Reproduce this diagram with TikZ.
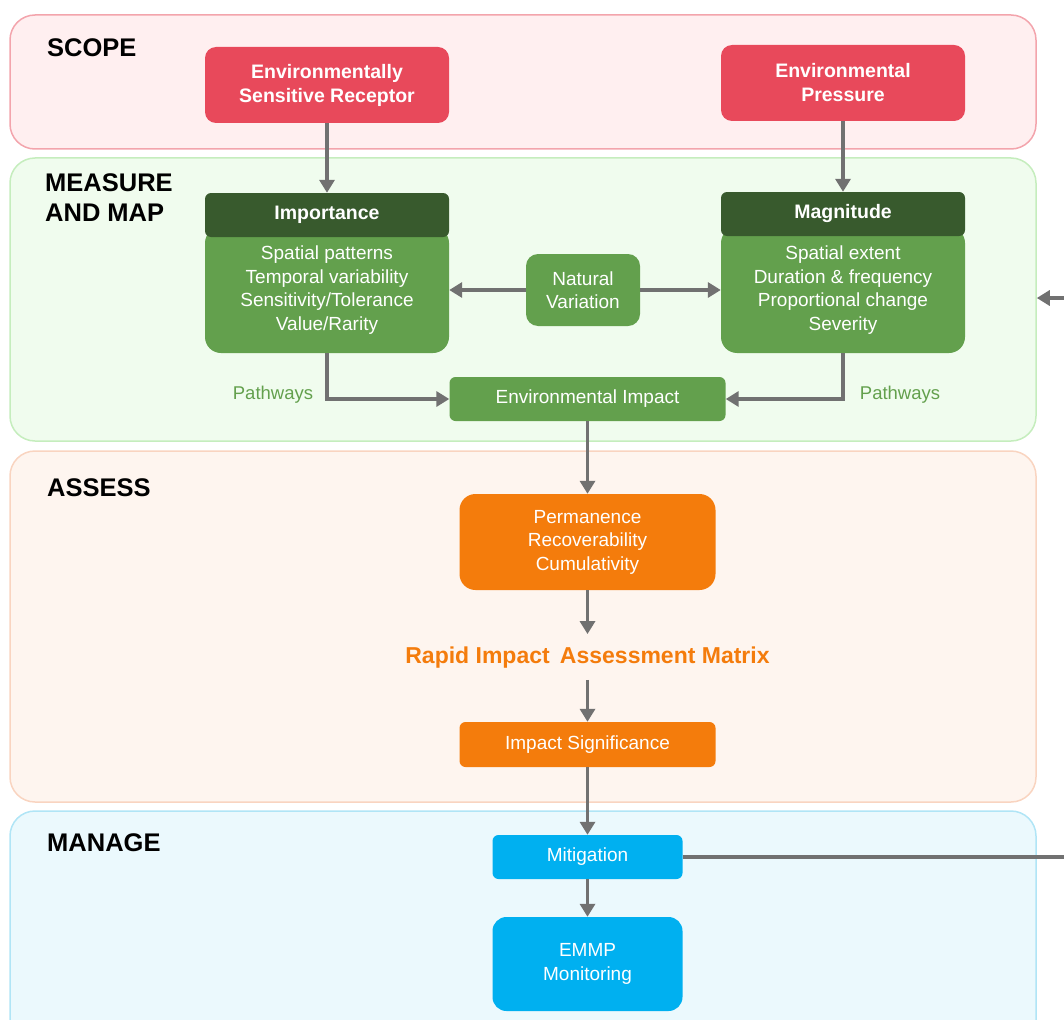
\documentclass[tikz,border=0pt]{standalone}
\usepackage{fontspec}
\setmainfont{Liberation Sans}
\usetikzlibrary{arrows.meta}
\definecolor{scopefill}{HTML}{FFEFF0}
\definecolor{scopeline}{HTML}{F3A4AC}
\definecolor{measfill}{HTML}{F0FCEE}
\definecolor{measline}{HTML}{C5EDBD}
\definecolor{assfill}{HTML}{FEF5EF}
\definecolor{assline}{HTML}{F9D4C0}
\definecolor{manfill}{HTML}{EBF9FD}
\definecolor{manline}{HTML}{B0E5F6}
\definecolor{redbox}{HTML}{E8495B}
\definecolor{darkgreen}{HTML}{385A2D}
\definecolor{greenbox}{HTML}{63A04D}
\definecolor{orangebox}{HTML}{F47C0C}
\definecolor{bluebox}{HTML}{00B0F0}
\definecolor{arrgray}{HTML}{717171}
\begin{document}
\begin{tikzpicture}[x=1pt,y=-1pt,
  panel/.style={draw, line width=1.5pt, rounded corners=25pt, inner sep=0pt},
  ptitle/.style={anchor=west, align=left, inner sep=0pt, text=black,
    font=\fontsize{25.5}{30}\selectfont\bfseries},
  box/.style={rectangle, inner sep=0pt, text=white, align=center,
    font=\fontsize{19}{23.5}\selectfont},
  boldbox/.style={box, font=\fontsize{19.5}{24}\selectfont\bfseries},
  arr/.style={draw=arrgray, line width=3.5pt, -{Triangle[length=13pt,width=15pt]}},
  plain/.style={draw=arrgray, line width=3.5pt}
]
\useasboundingbox (0,0) rectangle (1064,1019);
% panels
\node[panel, draw=scopeline, fill=scopefill, minimum width=1026pt, minimum height=134pt] (scope) at (523,82) {};
\node[panel, draw=measline, fill=measfill, minimum width=1026pt, minimum height=283pt] (meas) at (523,299.5) {};
\node[panel, draw=assline, fill=assfill, minimum width=1026pt, minimum height=351pt] (ass) at (523,626.5) {};
\node[panel, draw=manline, fill=manfill, minimum width=1026pt, minimum height=240pt] (man) at (523,931) {};
% panel titles
\node[ptitle] (tscope) at (47,48) {SCOPE};
\node[ptitle] (tmeas) at (45,198) {MEASURE\\AND MAP};
\node[ptitle] (tass) at (47,488) {ASSESS};
\node[ptitle] (tman) at (47,843) {MANAGE};
% scope boxes
\node[boldbox, fill=redbox, rounded corners=11pt, minimum width=244pt, minimum height=76pt] (esr) at (327,85) {Environmentally\\Sensitive Receptor};
\node[boldbox, fill=redbox, rounded corners=11pt, minimum width=244pt, minimum height=76pt] (ep) at (843,83) {Environmental\\Pressure};
% importance
\node[box, fill=greenbox, rounded corners=16pt, minimum width=244pt, minimum height=126pt] (impbody) at (327,290) {Spatial patterns\\Temporal variability\\Sensitivity/Tolerance\\Value/Rarity};
\node[boldbox, fill=darkgreen, rounded corners=6pt, minimum width=244pt, minimum height=44pt] (imphead) at (327,215) {Importance};
% magnitude
\node[box, fill=greenbox, rounded corners=16pt, minimum width=244pt, minimum height=126pt] (magbody) at (843,290) {Spatial extent\\Duration \& frequency\\Proportional change\\Severity};
\node[boldbox, fill=darkgreen, rounded corners=6pt, minimum width=244pt, minimum height=44pt] (maghead) at (843,214) {Magnitude};
% natural variation
\node[box, fill=greenbox, rounded corners=12pt, minimum width=114pt, minimum height=72pt] (nv) at (583,290) {Natural\\Variation};
% environmental impact
\node[box, fill=greenbox, rounded corners=6pt, minimum width=276pt, minimum height=44pt] (ei) at (587.5,399) {Environmental Impact};
\node[text=greenbox, inner sep=0pt, font=\fontsize{18.5}{22}\selectfont] (pathl) at (273,395) {Pathways};
\node[text=greenbox, inner sep=0pt, font=\fontsize{18.5}{22}\selectfont] (pathr) at (900,395) {Pathways};
% assess
\node[box, fill=orangebox, rounded corners=16pt, minimum width=256pt, minimum height=96pt] (perm) at (587.5,542) {Permanence\\Recoverability\\Cumulativity};
\node[text=orangebox, inner sep=0pt, font=\fontsize{23}{26}\selectfont\bfseries] (riam) at (587.5,658) {Rapid Impact\, Assessment Matrix};
\node[box, fill=orangebox, rounded corners=6pt, minimum width=256pt, minimum height=45pt] (sig) at (587.5,744.5) {Impact Significance};
% manage
\node[box, fill=bluebox, rounded corners=6pt, minimum width=190pt, minimum height=44pt] (mit) at (587.5,857) {Mitigation};
\node[box, fill=bluebox, rounded corners=14pt, minimum width=190pt, minimum height=94pt] (emmp) at (587.5,964) {EMMP\\Monitoring};
% connectors
\draw[arr] (esr.south) -- (imphead.north);
\draw[arr] (ep.south) -- (maghead.north);
\draw[arr] (nv.west) -- (impbody.east);
\draw[arr] (nv.east) -- (magbody.west);
\draw[arr] (impbody.south) |- (ei.west);
\draw[arr] (magbody.south) |- (ei.east);
\draw[arr] (ei.south) -- (perm.north);
\draw[arr] (perm.south) -- ([yshift=13pt]riam.north);
\draw[arr] ([yshift=-11pt]riam.south) -- (sig.north);
\draw[arr] (sig.south) -- (mit.north);
\draw[arr] (mit.south) -- (emmp.north);
\coordinate (fbout) at (1066,857);
\coordinate (fbin) at (1066,298);
\draw[plain] (mit.east) -- (fbout);
\draw[arr] (fbin) -- (meas.east |- fbin);
\end{tikzpicture}
\end{document}
